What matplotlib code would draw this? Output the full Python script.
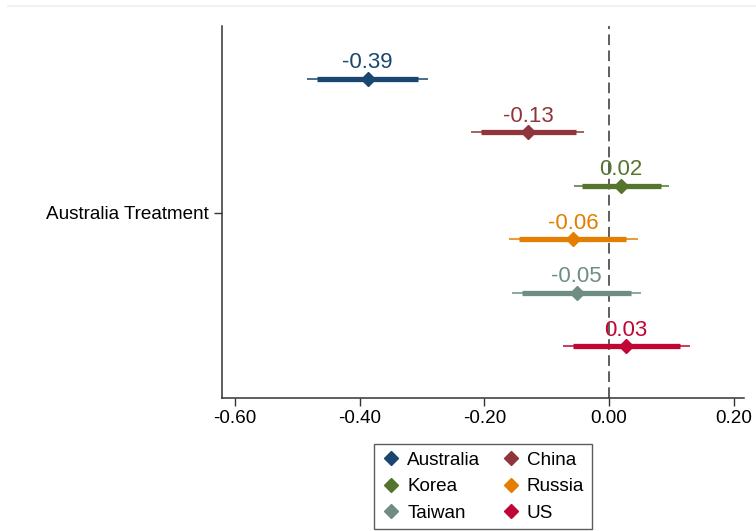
import matplotlib.pyplot as plt
from matplotlib.lines import Line2D

plt.rcParams["font.family"] = ["Liberation Sans", "DejaVu Sans"]

countries = ["Australia", "China", "Korea", "Russia", "Taiwan", "US"]
estimates = [-0.387, -0.130, 0.019, -0.057, -0.052, 0.027]
labels = ["-0.39", "-0.13", "0.02", "-0.06", "-0.05", "0.03"]
ci95_lo = [-0.485, -0.221, -0.056, -0.161, -0.156, -0.073]
ci95_hi = [-0.290, -0.040, 0.096, 0.046, 0.052, 0.130]
ci90_lo = [-0.469, -0.206, -0.043, -0.144, -0.139, -0.057]
ci90_hi = [-0.306, -0.053, 0.083, 0.028, 0.035, 0.114]
colors = ["#1a476f", "#90353b", "#55752f", "#e37e00", "#6e8e84", "#c10534"]

fig = plt.figure(figsize=(7.56, 5.31), dpi=100)
ax = fig.add_axes([0.293, 0.2505, 0.691, 0.7005])

# faint frame line at the top of the image
fig.add_artist(Line2D([0.011, 1.0], [0.989, 0.989], color="#eef3f3", lw=1.5))

for i, c in enumerate(countries):
    col = colors[i]
    ax.plot([ci95_lo[i], ci95_hi[i]], [i, i], color=col, lw=1.1, solid_capstyle="butt", zorder=2)
    ax.plot([ci90_lo[i], ci90_hi[i]], [i, i], color=col, lw=3.8, solid_capstyle="butt", zorder=3)
    ax.plot(estimates[i], i, marker="D", ms=7.5, color=col, mec=col, ls="none", zorder=4)
    ax.annotate(labels[i], (estimates[i], i), xytext=(0, 4), textcoords="offset points",
                ha="center", va="bottom", color=col, fontsize=16)

ax.axvline(0, color="#333333", lw=1.1, dashes=(7, 3.5), zorder=1)

ax.set_xlim(-0.6215, 0.2165)
ax.set_ylim(5.97, -0.99)
ax.set_xticks([-0.6, -0.4, -0.2, 0.0, 0.2])
ax.set_xticklabels(["-0.60", "-0.40", "-0.20", "0.00", "0.20"])
ax.set_yticks([2.5])
ax.set_yticklabels(["Australia Treatment"])
ax.tick_params(labelsize=13.6, length=6, width=1, color="#333333")
ax.tick_params(axis="x", pad=2.5)

for s in ["top", "right"]:
    ax.spines[s].set_visible(False)
for s in ["left", "bottom"]:
    ax.spines[s].set_color("#333333")
    ax.spines[s].set_linewidth(1.1)

# legend filled row by row: matplotlib fills columns, so reorder
order = [0, 2, 4, 1, 3, 5]
handles = [Line2D([], [], marker="D", ms=7.5, color=colors[k], ls="none") for k in order]
names = [countries[k] for k in order]
leg = fig.legend(handles, names, ncol=2, loc="lower center", bbox_to_anchor=(0.639, 0.003),
                 fontsize=13.6, frameon=True, fancybox=False, edgecolor="#333333",
                 handletextpad=0.35, columnspacing=1.1, labelspacing=0.5, borderpad=0.4,
                 handlelength=1.0, borderaxespad=0.0)
leg.get_frame().set_linewidth(1.0)

fig.savefig("out.png", dpi=100)
